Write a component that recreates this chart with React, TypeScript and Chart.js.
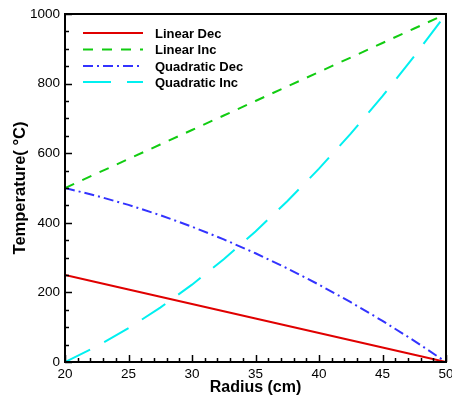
import React, { useEffect, useRef } from "react";
import { Chart, registerables } from "chart.js";

Chart.register(...registerables);

const radius = [20, 22.5, 25, 27.5, 30, 32.5, 35, 37.5, 40, 42.5, 45, 47.5, 50];
const linearDec = [250, 229.2, 208.3, 187.5, 166.7, 145.8, 125, 104.2, 83.3, 62.5, 41.7, 20.8, 0];
const linearInc = [500, 541.7, 583.3, 625, 666.7, 708.3, 750, 791.7, 833.3, 875, 916.7, 958.3, 1000];
const quadDec = [500, 477.4, 451.4, 421.9, 388.9, 352.4, 312.5, 269.1, 222.2, 171.9, 118.1, 60.8, 0];
const quadInc = [0, 45.1, 97.2, 156.3, 222.2, 295.1, 375, 461.8, 555.6, 656.3, 763.9, 878.5, 1000];
const seriesLabels = ["Linear Dec", "Linear Inc", "Quadratic Dec", "Quadratic Inc"];
const xTitle = "Radius (cm)";
const yTitle = "Temperature( °C)";

const FONT = "'Liberation Sans', Arial, sans-serif";

const framePlugin = {
  id: "frameTicks",
  afterDraw(chart: any) {
    const { ctx, chartArea, scales } = chart;
    const xs = scales.x;
    const ys = scales.y;
    ctx.save();
    ctx.strokeStyle = "#000";
    ctx.lineWidth = 1.5;
    for (let v = 20; v <= 50; v += 1) {
      const px = Math.round(xs.getPixelForValue(v)) + 0.5;
      const len = v % 5 === 0 ? 7 : 4;
      ctx.beginPath();
      ctx.moveTo(px, chartArea.bottom);
      ctx.lineTo(px, chartArea.bottom - len);
      ctx.stroke();
    }
    for (let v = 0; v <= 1000; v += 50) {
      const py = Math.round(ys.getPixelForValue(v)) + 0.5;
      const len = v % 200 === 0 ? 7 : 4;
      ctx.beginPath();
      ctx.moveTo(chartArea.left, py);
      ctx.lineTo(chartArea.left + len, py);
      ctx.stroke();
    }
    ctx.lineWidth = 2;
    ctx.strokeRect(chartArea.left, chartArea.top, chartArea.right - chartArea.left, chartArea.bottom - chartArea.top);
    const ds = chart.data.datasets;
    const x0 = 83, x1 = 143, tx = 155;
    const rows = [33, 49.5, 66, 82];
    ctx.font = `bold 13px ${FONT}`;
    ctx.textBaseline = "middle";
    ctx.textAlign = "left";
    ds.forEach((d: any, i: number) => {
      const y = rows[i];
      ctx.strokeStyle = d.borderColor;
      ctx.lineWidth = 2;
      ctx.setLineDash(d.borderDash || []);
      ctx.beginPath();
      ctx.moveTo(x0, y);
      ctx.lineTo(x1, y);
      ctx.stroke();
      ctx.setLineDash([]);
      ctx.fillStyle = "#000";
      ctx.fillText(d.label, tx, y + 1);
    });
    ctx.restore();
  },
};

export default function App() {
  const ref = useRef<HTMLCanvasElement | null>(null);
  useEffect(() => {
    if (!ref.current) return;
    const mk = (label: string, data: number[], color: string, dash: number[]) => ({
      label,
      data: radius.map((r, i) => ({ x: r, y: data[i] })),
      borderColor: color,
      backgroundColor: color,
      borderWidth: 2,
      borderDash: dash,
      pointRadius: 0,
      fill: false,
      tension: 0,
    });
    const chart = new Chart(ref.current, {
      type: "line",
      data: {
        datasets: [
          mk(seriesLabels[0], linearDec, "#e00000", []),
          mk(seriesLabels[1], linearInc, "#11cc11", [10, 9]),
          mk(seriesLabels[2], quadDec, "#3333ff", [10, 4, 2, 4]),
          mk(seriesLabels[3], quadInc, "#00f0f0", [28, 16]),
        ],
      },
      options: {
        animation: false,
        responsive: false,
        maintainAspectRatio: false,
        layout: { padding: { top: 14, right: 6, left: 0, bottom: 0 } },
        plugins: { legend: { display: false }, tooltip: { enabled: false } },
        scales: {
          x: {
            type: "linear",
            min: 20,
            max: 50,
            grid: { display: false, drawTicks: false },
            border: { display: false },
            ticks: {
              stepSize: 5,
              padding: 4,
              color: "#000",
              font: { family: FONT, size: 13.5 },
              maxRotation: 0,
              callback: (v: any) => String(v),
            },
            title: {
              display: true,
              text: xTitle,
              color: "#000",
              font: { family: FONT, size: 16, weight: "bold" },
              padding: { top: 0, bottom: -1 },
            },
            afterFit(s: any) {
              s.height = 34;
              s.paddingLeft = 0;
              s.paddingRight = 0;
            },
          },
          y: {
            type: "linear",
            min: 0,
            max: 1000,
            grid: { display: false, drawTicks: false },
            border: { display: false },
            ticks: {
              stepSize: 200,
              padding: 5,
              color: "#000",
              font: { family: FONT, size: 13.5 },
              callback: (v: any) => String(v),
            },
            title: {
              display: true,
              text: yTitle,
              color: "#000",
              font: { family: FONT, size: 16.5, weight: "bold" },
              padding: { top: 11, bottom: 0 },
            },
            afterFit(s: any) {
              s.width = 65;
              s.paddingTop = 0;
              s.paddingBottom = 0;
            },
          },
        },
      },
      plugins: [framePlugin],
    } as any);
    return () => chart.destroy();
  }, []);
  return (
    <div style={{ position: "fixed", left: 0, top: 0, width: 452, height: 396, background: "#fff" }}>
      <canvas ref={ref} width={452} height={396} style={{ display: "block" }} />
    </div>
  );
}
